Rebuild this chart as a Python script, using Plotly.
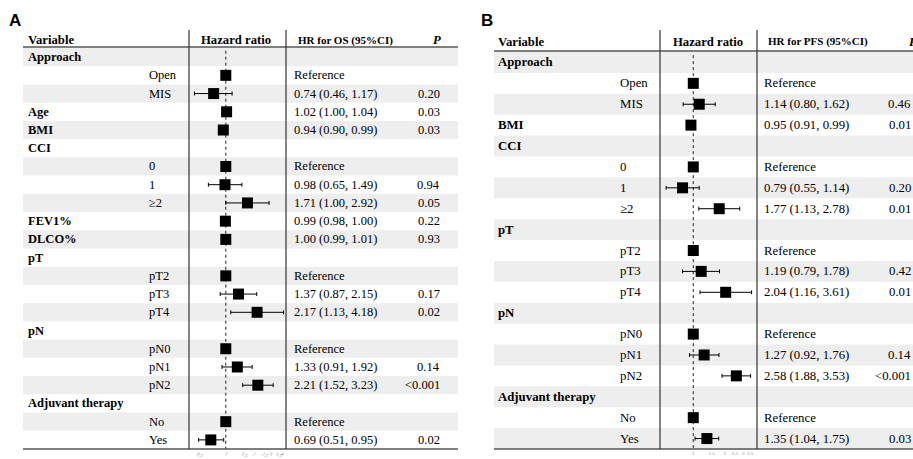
import plotly.graph_objects as go

W, H = 913, 459

# ---- Panel A: overall survival ----
a_var = ["Approach", "", "", "Age", "BMI", "CCI", "", "", "", "FEV1%", "DLCO%", "pT", "", "", "",
         "pN", "", "", "", "Adjuvant therapy", "", ""]
a_sub = ["", "Open", "MIS", "", "", "", "0", "1", "\u22652", "", "", "", "pT2", "pT3", "pT4",
         "", "pN0", "pN1", "pN2", "", "No", "Yes"]
a_hr = [None, 1.0, 0.74, 1.02, 0.94, None, 1.0, 0.98, 1.71, 0.99, 1.00, None, 1.0, 1.37, 2.17,
        None, 1.0, 1.33, 2.21, None, 1.0, 0.69]
a_lo = [None, None, 0.46, 1.00, 0.90, None, None, 0.65, 1.00, 0.98, 0.99, None, None, 0.87, 1.13,
        None, None, 0.91, 1.52, None, None, 0.51]
a_hi = [None, None, 1.17, 1.04, 0.99, None, None, 1.49, 2.92, 1.00, 1.01, None, None, 2.15, 4.18,
        None, None, 1.92, 3.23, None, None, 0.95]
a_p = ["", "", "0.20", "0.03", "0.03", "", "", "0.94", "0.05", "0.22", "0.93", "", "", "0.17", "0.02",
       "", "", "0.14", "<0.001", "", "", "0.02"]
a_ticks = [0.5, 1, 1.5, 2, 2.5, 3, 3.5, 4]

# ---- Panel B: progression-free survival ----
b_var = ["Approach", "", "", "BMI", "CCI", "", "", "", "pT", "", "", "", "pN", "", "", "",
         "Adjuvant therapy", "", ""]
b_sub = ["", "Open", "MIS", "", "", "0", "1", "\u22652", "", "pT2", "pT3", "pT4", "", "pN0", "pN1", "pN2",
         "", "No", "Yes"]
b_hr = [None, 1.0, 1.14, 0.95, None, 1.0, 0.79, 1.77, None, 1.0, 1.19, 2.04, None, 1.0, 1.27, 2.58,
        None, 1.0, 1.35]
b_lo = [None, None, 0.80, 0.91, None, None, 0.55, 1.13, None, None, 0.79, 1.16, None, None, 0.92, 1.88,
        None, None, 1.04]
b_hi = [None, None, 1.62, 0.99, None, None, 1.14, 2.78, None, None, 1.78, 3.61, None, None, 1.76, 3.53,
        None, None, 1.75]
b_p = ["", "", "0.46", "0.01", "", "", "0.20", "0.01", "", "", "0.42", "0.01", "", "", "0.14", "<0.001",
       "", "", "0.03"]
b_ticks = [1, 1.5, 2, 2.5, 3, 3.5]

SERIF = "Liberation Serif"


def px(x):
    return x / W


def py(y):
    return 1 - y / H


fig = go.Figure()
shapes = []
annotations = []


def note(x, y, text, size, xanchor="left", yref="paper", family=SERIF):
    annotations.append(dict(x=x, y=y, xref="paper", yref=yref, xanchor=xanchor, yanchor="middle",
                            text=text, showarrow=False, borderpad=0,
                            font=dict(family=family, size=size, color="black")))


def panel(idx, letter, letter_xy, var, sub, hr, lo, hi, pv, ticks, hr_title,
          left, right, top, head_y, head_line, vlines, var_x, sub_x, ci_x, p_x, p_head_x,
          hr_center, xr, fs):
    n = len(var)
    xa = "x" if idx == 1 else f"x{idx}"
    ya = "y" if idx == 1 else f"y{idx}"
    bottom = 449
    dom_y = [py(bottom), py(top)]
    layout_x = dict(type="log", domain=[px(vlines[0]), px(vlines[1])], range=xr,
                    anchor=ya, showgrid=False, zeroline=False, showline=False,
                    tickvals=ticks, ticktext=[f"{t:g}" for t in ticks], ticks="",
                    tickfont=dict(size=5, color="#8a8a8a", family=SERIF))
    layout_y = dict(domain=dom_y, range=[n - 0.5, -0.5], anchor=xa, visible=False)
    fig.update_layout(**{("xaxis" if idx == 1 else f"xaxis{idx}"): layout_x,
                         ("yaxis" if idx == 1 else f"yaxis{idx}"): layout_y})

    # zebra stripes
    for i in range(0, n, 2):
        shapes.append(dict(type="rect", xref="paper", yref=ya, x0=px(left), x1=px(right),
                           y0=i - 0.5, y1=i + 0.5, fillcolor="#eeeeee", line_width=0, layer="below"))
    # header and bottom rules
    for yy in (head_line, bottom):
        shapes.append(dict(type="line", xref="paper", yref="paper", x0=px(left), x1=px(right),
                           y0=py(yy), y1=py(yy), line=dict(color="#555555", width=1.5)))
    for xv in vlines:
        shapes.append(dict(type="line", xref="paper", yref="paper", x0=px(xv), x1=px(xv),
                           y0=py(30), y1=py(bottom), line=dict(color="#333333", width=1.2)))

    # reference line at HR = 1
    fig.add_trace(go.Scatter(x=[1, 1], y=[-0.35, n - 0.5], mode="lines", xaxis=xa, yaxis=ya,
                             line=dict(color="#222222", width=1, dash="3px,3px"),
                             hoverinfo="skip", showlegend=False))

    rows = [i for i in range(n) if hr[i] is not None]
    xs = [hr[i] for i in rows]
    plus = [(hi[i] - hr[i]) if hi[i] is not None else 0 for i in rows]
    minus = [(hr[i] - lo[i]) if lo[i] is not None else 0 for i in rows]
    fig.add_trace(go.Scatter(
        x=xs, y=rows, mode="markers", xaxis=xa, yaxis=ya, showlegend=False,
        marker=dict(symbol="square", size=11, color="black", line_width=0),
        error_x=dict(type="data", array=plus, arrayminus=minus, color="black",
                     thickness=1, width=2)))

    # header texts
    note(px(var_x), py(head_y), "<b>Variable</b>", 12.7)
    note(px(hr_center), py(head_y), "<b>Hazard ratio</b>", 12.7, xanchor="center")
    note(px(ci_x + 4), py(head_y), f"<b>{hr_title}</b>", 11)
    note(px(p_head_x), py(head_y), "<b><i>P</i></b>", 12.7, xanchor="center")
    note(px(letter_xy[0]), py(letter_xy[1]), f"<b>{letter}</b>", 17, xanchor="center",
         family="Liberation Sans")

    for i in range(n):
        if var[i]:
            note(px(var_x), i, f"<b>{var[i]}</b>", fs, yref=ya)
        if sub[i]:
            note(px(sub_x), i, sub[i], fs, yref=ya)
        if hr[i] is not None:
            ci = "Reference" if lo[i] is None else f"{hr[i]:.2f} ({lo[i]:.2f}, {hi[i]:.2f})"
            note(px(ci_x), i, ci, fs, yref=ya)
        if pv[i]:
            note(px(p_x), i, pv[i].replace("<", "&lt;"), fs, xanchor="right", yref=ya)


panel(1, "A", (14.5, 21), a_var, a_sub, a_hr, a_lo, a_hi, a_p, a_ticks, "HR for OS (95%CI)",
      left=23, right=458, top=48, head_y=40, head_line=47, vlines=(189, 286),
      var_x=27, sub_x=148, ci_x=293, p_x=441, p_head_x=437, hr_center=236,
      xr=[-0.3957, 0.6473], fs=12.5)
panel(2, "B", (487, 21), b_var, b_sub, b_hr, b_lo, b_hi, b_p, b_ticks, "HR for PFS (95%CI)",
      left=494, right=913, top=52, head_y=41.5, head_line=51, vlines=(660, 757),
      var_x=497, sub_x=619, ci_x=763, p_x=912, p_head_x=913, hr_center=707.5,
      xr=[-0.318, 0.609], fs=12.8)

fig.update_layout(width=W, height=H, margin=dict(l=0, r=0, t=0, b=0),
                  paper_bgcolor="white", plot_bgcolor="rgba(0,0,0,0)",
                  shapes=shapes, annotations=annotations, showlegend=False)

fig.write_html("out.html")
